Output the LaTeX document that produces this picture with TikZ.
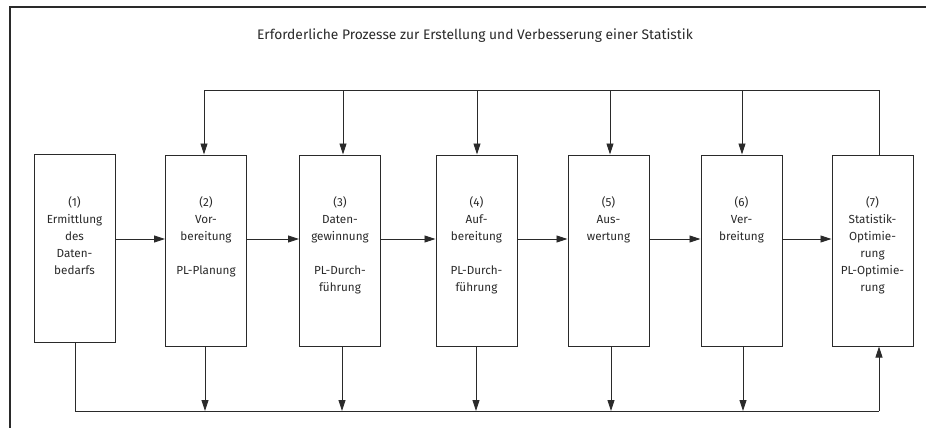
\documentclass[tikz,border=0pt]{standalone}
\usepackage{fontspec}
\setmainfont{Fira Sans}
\usetikzlibrary{arrows.meta}
\definecolor{ink}{HTML}{2A2A2A}
\begin{document}
\begin{tikzpicture}[x=1pt,y=-1pt,
  stepbox/.style={draw=ink,line width=1pt,minimum width=81pt,inner sep=0pt},
  boxtext/.style={anchor=north,align=center,font=\fontsize{11.7}{17}\selectfont,text=ink,inner sep=0pt},
  conn/.style={draw=ink,line width=0.9pt},
  arr/.style={conn,-{Triangle[length=11pt,width=7pt]}}]
\useasboundingbox (0,0) rectangle (926,428);
\fill[white] (0,0) rectangle (926,428);
% frame
\coordinate (fbl) at (10,428);
\coordinate (ftl) at (10,7);
\coordinate (ftr) at (926,7);
\draw[ink,line width=1.2pt] (fbl) -- (ftl) -- (ftr);
\node[text=ink,font=\fontsize{13.8}{16}\selectfont] (title) at (475,36) {Erforderliche Prozesse zur Erstellung und Verbesserung einer Statistik};
% boxes
\node[stepbox,minimum height=188pt] (b1) at (74.5,248) {};
\node[stepbox,minimum height=191pt] (b2) at (206,250.5) {};
\node[stepbox,minimum height=191pt] (b3) at (340,250.5) {};
\node[stepbox,minimum height=191pt] (b4) at (476.5,250.5) {};
\node[stepbox,minimum height=191pt] (b5) at (608.5,250.5) {};
\node[stepbox,minimum height=191pt] (b6) at (741.5,250.5) {};
\node[stepbox,minimum height=191pt] (b7) at (872.5,250.5) {};
% texts
\node[boxtext] (t1) at (74.5,196) {(1)\\Ermittlung\\des\\Daten-\\bedarfs};
\node[boxtext] (t2) at (206,196) {(2)\\Vor-\\bereitung\\[17pt]PL-Planung};
\node[boxtext] (t3) at (340,196) {(3)\\Daten-\\gewinnung\\[17pt]PL-Durch-\\führung};
\node[boxtext] (t4) at (476.5,196) {(4)\\Auf-\\bereitung\\[17pt]PL-Durch-\\führung};
\node[boxtext] (t5) at (608.5,196) {(5)\\Aus-\\wertung};
\node[boxtext] (t6) at (741.5,196) {(6)\\Ver-\\breitung};
\node[boxtext] (t7) at (872.5,196) {(7)\\Statistik-\\Optimie-\\rung\\PL-Optimie-\\rung};
% horizontal arrows
\foreach \a/\b in {b1/b2,b2/b3,b3/b4,b4/b5,b5/b6,b6/b7}
  \draw[arr] (\a.east|-0,239) -- (\b.west|-0,239);
% top feedback
\coordinate (tl) at (204,90);
\coordinate (tr) at (879,90);
\draw[conn] (b7.north-|tr) -- (tr) -- (tl);
\coordinate (c3) at (343,90);
\coordinate (c4) at (477,90);
\coordinate (c5) at (610,90);
\coordinate (c6) at (742,90);
\draw[arr] (tl) -- (tl|-b2.north);
\draw[arr] (c3) -- (c3|-b3.north);
\draw[arr] (c4) -- (c4|-b4.north);
\draw[arr] (c5) -- (c5|-b5.north);
\draw[arr] (c6) -- (c6|-b6.north);
% bottom feedback
\coordinate (bl) at (75,411);
\coordinate (br) at (879,411);
\draw[conn] (b1.south-|bl) -- (bl) -- (br);
\draw[arr] (br) -- (br|-b7.south);
\coordinate (d2) at (205,411);
\coordinate (d3) at (342,411);
\coordinate (d4) at (476,411);
\coordinate (d5) at (611,411);
\coordinate (d6) at (743,411);
\draw[arr] (b2.south-|d2) -- (d2);
\draw[arr] (b3.south-|d3) -- (d3);
\draw[arr] (b4.south-|d4) -- (d4);
\draw[arr] (b5.south-|d5) -- (d5);
\draw[arr] (b6.south-|d6) -- (d6);
\end{tikzpicture}
\end{document}
